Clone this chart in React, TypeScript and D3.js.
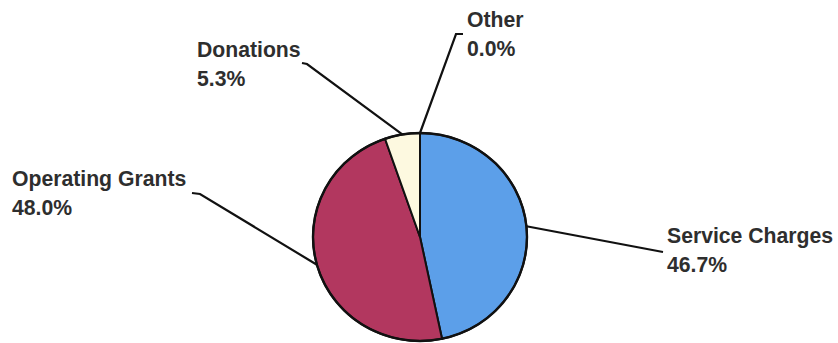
import React from "react";
import * as d3 from "d3";

// Revenue sources and their shares (percent)
const categories = ["Service Charges", "Operating Grants", "Donations", "Other"];
const shares = [46.7, 48.0, 5.3, 0.0];
const sliceColors = ["#5c9fe9", "#b2375f", "#fdf9e0", "#dddddd"];

// Label layout: text anchor (x, first baseline) and the leader line's elbow near the text
const labelLayout = [
  { x: 667, y: 243, elbow: [[663, 252]] },
  { x: 12, y: 186, elbow: [[192, 193], [200, 194]] },
  { x: 197, y: 57, elbow: [[302, 63], [307, 64]] },
  { x: 467, y: 27, elbow: [[463, 34], [456, 34]] },
];

const W = 838;
const H = 343;
const cx = 420;
const cy = 237;
const rx = 107;
const ry = 104;
const lineGap = 29;

export default function App() {
  const pie = d3
    .pie<number>()
    .sort(null)
    .value((d) => d)
    .startAngle(0)
    .endAngle(2 * Math.PI);
  const slices = pie(shares);
  const arc = d3.arc<d3.PieArcDatum<number>>().innerRadius(0).outerRadius(rx);
  const fmt = d3.format(".1f");

  // point on the (slightly flattened) pie rim at a given angle
  const rim = (a: number): [number, number] => [
    cx + rx * Math.sin(a),
    cy - ry * Math.cos(a),
  ];

  const line = d3.line();

  return (
    <svg
      width={W}
      height={H}
      style={{ position: "absolute", left: 0, top: 0, background: "#fff" }}
    >
      <g transform={`translate(${cx},${cy}) scale(1,${ry / rx})`}>
        {slices.map((s, i) => (
          <path
            key={categories[i]}
            d={arc(s) || ""}
            fill={sliceColors[i]}
            stroke="#111"
            strokeWidth={2}
            vectorEffect="non-scaling-stroke"
          />
        ))}
        <ellipse
          cx={0}
          cy={0}
          rx={rx}
          ry={rx}
          fill="none"
          stroke="#111"
          strokeWidth={2.4}
          vectorEffect="non-scaling-stroke"
        />
      </g>
      {slices.map((s, i) => {
        const mid = (s.startAngle + s.endAngle) / 2;
        const pts = [...labelLayout[i].elbow, rim(mid)] as [number, number][];
        return (
          <path
            key={"leader-" + categories[i]}
            d={line(pts) || ""}
            fill="none"
            stroke="#111"
            strokeWidth={2.2}
          />
        );
      })}
      {slices.map((s, i) => (
        <text
          key={"label-" + categories[i]}
          x={labelLayout[i].x}
          y={labelLayout[i].y}
          fontFamily="'Liberation Sans', Arial, sans-serif"
          fontWeight="bold"
          fontSize={21.2}
          fill="#2e2e2e"
        >
          <tspan x={labelLayout[i].x}>{categories[i]}</tspan>
          <tspan x={labelLayout[i].x} dy={lineGap}>
            {fmt(shares[i])}%
          </tspan>
        </text>
      ))}
    </svg>
  );
}
